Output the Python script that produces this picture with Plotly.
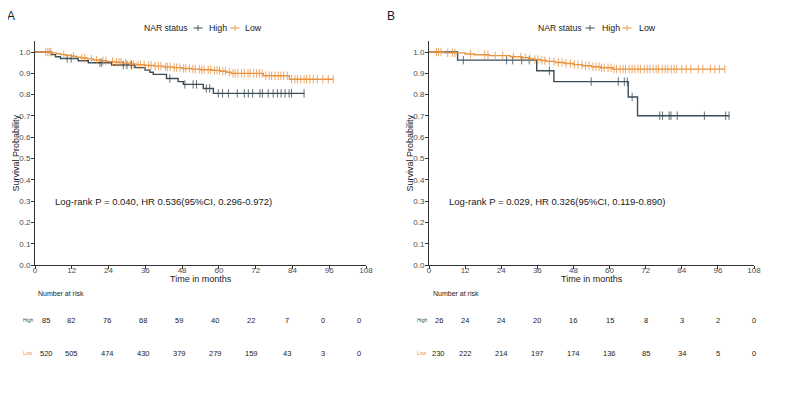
import plotly.graph_objects as go

# ---------------- data ----------------
time_ticks = [0, 12, 24, 36, 48, 60, 72, 84, 96, 108]
group_names = ["High", "Low"]
legend_title = "NAR status"

# Panel A
A_high_event_t = [5.4, 6.7, 8.3, 14.1, 17.4, 25.0, 32.6, 35.9, 37.5, 38.6, 42.9, 46.7, 48.4, 54.9, 58.2]
A_high_surv = [0.988, 0.978, 0.970, 0.959, 0.950, 0.939, 0.927, 0.915, 0.905, 0.895, 0.876, 0.861, 0.848, 0.829, 0.806]
A_high_end = 87.9
A_high_censor = [10.5, 11.8, 21.2, 21.8, 28.8, 30.0, 31.5, 44.0, 48.9, 51.6, 52.7, 55.9, 57.0, 59.8, 61.2,
                 63.1, 66.0, 68.3, 69.6, 71.0, 73.4, 74.2, 76.1, 77.7, 79.1, 80.3, 81.6, 82.9, 83.7, 87.8]

A_low_event_t = [5.5, 7.0, 8.5, 10.0, 12.0, 13.5, 15.0, 17.0, 19.0, 21.0, 23.5, 26.0, 28.5, 31.0, 33.0,
                 36.0, 39.0, 42.0, 45.0, 48.0, 51.0, 54.0, 58.0, 60.5, 62.5, 64.0, 74.5, 83.0]
A_low_surv = [0.996, 0.992, 0.988, 0.984, 0.980, 0.976, 0.972, 0.968, 0.963, 0.959, 0.955, 0.952, 0.948, 0.944, 0.940,
              0.937, 0.934, 0.930, 0.927, 0.923, 0.920, 0.917, 0.914, 0.910, 0.905, 0.900, 0.889, 0.872]
A_low_end = 97.3
A_low_censor = [3.5, 4.2, 4.8, 5.2, 9.4, 12.6, 15.3, 16.2, 18.4, 20.1, 22.2, 23.1, 25.3, 26.6, 27.4, 28.1, 29.6,
                31.2, 32.1, 33.6, 34.4, 35.6, 37.1, 37.9, 39.2, 40.3, 41.1, 42.6, 43.2, 44.1, 45.4, 46.2, 47.3,
                48.5, 49.2, 50.4, 51.5, 52.3, 53.6, 54.4, 55.2, 56.5, 57.3, 58.6, 59.4, 60.2, 61.3, 62.1, 63.4,
                64.6, 65.3, 66.2, 67.4, 68.3, 69.5, 70.2, 71.4, 72.3, 73.2, 74.1, 75.3, 76.4, 77.2, 78.3, 79.4,
                80.2, 81.1, 82.3, 83.7, 84.8, 85.6, 86.7, 87.8, 88.6, 89.7, 90.8, 92.1, 93.9, 95.7, 97.3]

A_risk_high = [85, 82, 76, 68, 59, 40, 22, 7, 0, 0]
A_risk_low = [520, 505, 474, 430, 379, 279, 159, 43, 3, 0]
A_stats = "Log-rank P = 0.040, HR 0.536(95%CI, 0.296-0.972)"

# Panel B
B_high_event_t = [9.5, 35.8, 41.5, 66.2, 69.3]
B_high_surv = [0.962, 0.912, 0.861, 0.789, 0.701]
B_high_end = 99.8
B_high_censor = [11.4, 25.8, 27.8, 30.8, 33.3, 40.0, 53.9, 62.9, 64.9, 65.9, 67.5, 76.7, 77.6, 79.8, 80.4,
                 82.5, 91.5, 98.6, 99.7]

B_low_event_t = [5.0, 12.0, 15.0, 20.0, 27.0, 31.0, 33.0, 35.0, 37.0, 39.0, 42.0, 45.0, 48.0, 51.0, 54.0, 57.0, 61.0]
B_low_surv = [0.996, 0.991, 0.987, 0.983, 0.978, 0.974, 0.969, 0.965, 0.960, 0.956, 0.951, 0.946, 0.941, 0.936,
              0.931, 0.926, 0.920]
B_low_end = 98.3
B_low_censor = [2.5, 3.2, 4.0, 6.2, 7.8, 8.6, 13.8, 18.5, 19.6, 22.0, 24.5, 28.0, 30.5, 32.0, 33.5, 35.2, 36.2,
                37.5, 38.5, 40.0, 41.5, 43.0, 44.2, 45.5, 47.0, 48.3, 49.5, 50.8, 52.0, 53.2, 54.5, 55.5, 56.5,
                57.3, 58.2, 59.5, 60.5, 61.5, 62.3, 63.5, 64.5, 65.3, 66.5, 67.5, 68.4, 69.5, 70.3, 71.5, 72.5,
                73.4, 74.5, 75.5, 76.3, 77.5, 78.5, 79.4, 80.5, 81.5, 82.3, 84.0, 85.5, 87.0, 89.5, 91.0, 93.5,
                95.0, 96.5, 98.3]

B_risk_high = [26, 24, 24, 20, 16, 15, 8, 3, 2, 0]
B_risk_low = [230, 222, 214, 197, 174, 136, 85, 34, 5, 0]
B_stats = "Log-rank P = 0.029, HR 0.326(95%CI, 0.119-0.890)"

# ---------------- style ----------------
# the page body has an 8px margin, so the figure is 16px smaller than the window
OFF = 8
W, H = 787 - 2 * OFF, 394 - 2 * OFF
FONT = "Liberation Sans, Arial, Helvetica, sans-serif"
COL = {"High": "#3A4C57", "Low": "#EA9440"}
AX_COL = "#333333"
TICK_COL = "#4D4D4D"
TXT = "#1A1A1A"


def pxx(x):
    return (x - OFF) / W


def pxy(y):
    return 1 - (y - OFF) / H


def km_xy(ev_t, surv, end_t):
    xs, ys = [0.0], [1.0]
    for t, s in zip(ev_t, surv):
        xs.append(t)
        ys.append(s)
    xs.append(end_t)
    ys.append(surv[-1])
    return xs, ys


def surv_at(t, ev_t, surv):
    s = 1.0
    for et, sv in zip(ev_t, surv):
        if t >= et:
            s = sv
    return s


fig = go.Figure()

panels = [
    dict(xa="x", ya="y",
         curves={"High": (A_high_event_t, A_high_surv, A_high_end, A_high_censor),
                 "Low": (A_low_event_t, A_low_surv, A_low_end, A_low_censor)}),
    dict(xa="x2", ya="y2",
         curves={"High": (B_high_event_t, B_high_surv, B_high_end, B_high_censor),
                 "Low": (B_low_event_t, B_low_surv, B_low_end, B_low_censor)}),
]

for p in panels:
    for g in group_names:
        ev_t, surv, end_t, cens = p["curves"][g]
        xs, ys = km_xy(ev_t, surv, end_t)
        fig.add_trace(go.Scatter(x=xs, y=ys, mode="lines", name=g,
                                 line=dict(color=COL[g], width=1.4, shape="hv"),
                                 xaxis=p["xa"], yaxis=p["ya"], showlegend=False, hoverinfo="skip"))
        cy = [surv_at(t, ev_t, surv) for t in cens]
        fig.add_trace(go.Scatter(x=cens, y=cy, mode="markers", name=g,
                                 marker=dict(symbol="line-ns-open", size=6, color=COL[g],
                                             line=dict(color=COL[g], width=1)),
                                 opacity=0.8, xaxis=p["xa"], yaxis=p["ya"], showlegend=False,
                                 hoverinfo="skip"))

# invisible traces to create the risk-table axes
for xa, ya in [("x3", "y3"), ("x4", "y4")]:
    fig.add_trace(go.Scatter(x=[time_ticks[0], time_ticks[-1]], y=[0, 0], mode="markers",
                             marker=dict(opacity=0), xaxis=xa, yaxis=ya, showlegend=False, hoverinfo="skip"))

xcommon = dict(range=[0, 108], tickvals=time_ticks, showline=True, linecolor=AX_COL, linewidth=1,
               ticks="outside", ticklen=3, tickcolor=AX_COL, tickfont=dict(size=8, color=TICK_COL, family=FONT),
               showgrid=False, zeroline=False, automargin=False, ticklabelstandoff=-6)
ycommon = dict(range=[0, 1.05], tickvals=[i / 10 for i in range(11)], tickformat=".1f", showline=True,
               linecolor=AX_COL, linewidth=1, ticks="outside", ticklen=3, tickcolor=AX_COL,
               tickfont=dict(size=8, color=TICK_COL, family=FONT), showgrid=False, zeroline=False,
               automargin=False, ticklabelstandoff=-1)
ydom = [pxy(265), pxy(41.4)]

fig.update_layout(
    template="none",
    width=W, height=H, margin=dict(l=0, r=0, t=0, b=0, pad=0, autoexpand=False),
    paper_bgcolor="white", plot_bgcolor="white",
    font=dict(family=FONT, color=TXT),
    xaxis=dict(domain=[pxx(35), pxx(366)], anchor="y", **xcommon),
    yaxis=dict(domain=ydom, anchor="x", **ycommon),
    xaxis2=dict(domain=[pxx(429), pxx(754)], anchor="y2", **xcommon),
    yaxis2=dict(domain=ydom, anchor="x2", **ycommon),
    xaxis3=dict(domain=[pxx(35), pxx(359)], range=[0, 108], anchor="y3", visible=False),
    yaxis3=dict(domain=[0, 0.05], range=[0, 1], anchor="x3", visible=False),
    xaxis4=dict(domain=[pxx(429), pxx(754)], range=[0, 108], anchor="y4", visible=False),
    yaxis4=dict(domain=[0, 0.05], range=[0, 1], anchor="x4", visible=False),
    showlegend=False,
)

ann = []
shapes = []


def add_text(text, x, y, size, color=TXT, xanchor="center", angle=0, xref="paper", yref="paper", xshift=0):
    ann.append(dict(text=text, x=x, y=y, xref=xref, yref=yref, xanchor=xanchor, yanchor="middle",
                    showarrow=False, textangle=angle, xshift=xshift,
                    font=dict(size=size, color=color, family=FONT)))


# panel letters
add_text("A", pxx(11), pxy(15.5), 12)
add_text("B", pxx(391), pxy(15.5), 12)

panel_info = [
    dict(xa="x", ya="y", tx="x3", ytitle_x=15, center=200.5, nar_x=36, lab_x=28, shift=11, stats=A_stats,
         leg=dict(title=142, sym={"High": 198, "Low": 235}, txt={"High": 207, "Low": 243}),
         risk={"High": A_risk_high, "Low": A_risk_low}),
    dict(xa="x2", ya="y2", tx="x4", ytitle_x=409, center=591.5, nar_x=431, lab_x=422, shift=10, stats=B_stats,
         leg=dict(title=536, sym={"High": 590, "Low": 627}, txt={"High": 600, "Low": 637}),
         risk={"High": B_risk_high, "Low": B_risk_low}),
]
row_y = {"High": 320, "Low": 353}
LEG_Y = 28

for p in panel_info:
    add_text("Survival Probability", pxx(p["ytitle_x"]), pxy(153.5), 9, angle=-90)
    add_text("Time in months", pxx(p["center"]), pxy(279), 9)
    add_text(p["stats"], 6.0, 0.3, 9.5, xanchor="left", xref=p["xa"], yref=p["ya"])
    add_text("Number at risk", pxx(p["nar_x"]), pxy(293), 7, xanchor="left")
    # legend (title + keys)
    add_text(legend_title, pxx(p["leg"]["title"]), pxy(LEG_Y), 8.6, xanchor="left")
    for g in group_names:
        add_text(g, pxx(p["leg"]["txt"][g]), pxy(LEG_Y), 8.8, xanchor="left")
        sx = p["leg"]["sym"][g]
        shapes.append(dict(type="line", xref="paper", yref="paper", x0=pxx(sx - 4.5), x1=pxx(sx + 4.5),
                           y0=pxy(LEG_Y), y1=pxy(LEG_Y), line=dict(color=COL[g], width=1.3), opacity=0.8))
        shapes.append(dict(type="line", xref="paper", yref="paper", x0=pxx(sx), x1=pxx(sx),
                           y0=pxy(LEG_Y - 3), y1=pxy(LEG_Y + 3), line=dict(color=COL[g], width=1.1), opacity=0.8))
    # risk table
    for g in group_names:
        add_text(g, pxx(p["lab_x"]), pxy(row_y[g]), 5, color=COL[g])
        for t, v in zip(time_ticks, p["risk"][g]):
            add_text(str(v), t, pxy(row_y[g]), 7.5, xref=p["tx"],
                     xshift=p["shift"] if t == 0 else 0)

fig.update_layout(annotations=ann, shapes=shapes)
fig.write_html("out.html")
